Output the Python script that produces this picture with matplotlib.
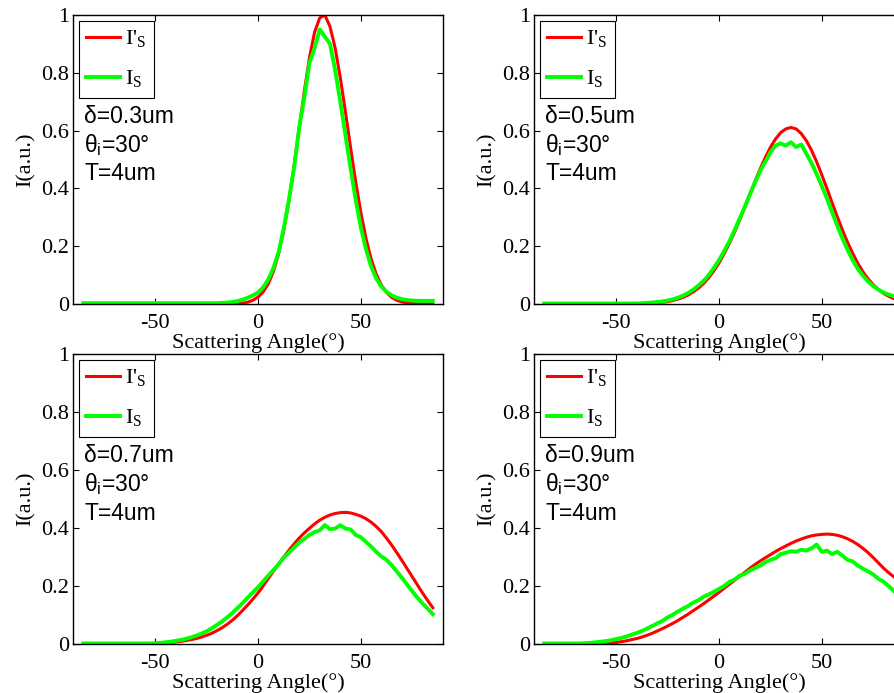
import numpy as np
import matplotlib
matplotlib.use('Agg')
import matplotlib.pyplot as plt

plt.rcParams['font.family'] = 'Liberation Serif'
plt.rcParams['mathtext.fontset'] = 'custom'
plt.rcParams['mathtext.rm'] = 'Liberation Serif'
plt.rcParams['mathtext.sf'] = 'Liberation Sans'
plt.rcParams['axes.unicode_minus'] = False

# scattering angle grid (deg), -85 .. 85 in 2.5 deg steps
angles = np.arange(-85, 85.1, 2.5)

deltas = ['0.3', '0.5', '0.7', '0.9']

# I'_S (model)
red_03 = [0.0, 0.0, 0.0, 0.0, 0.0, 0.0, 0.0, 0.0, 0.0, 0.0,
          0.0, 0.0, 0.0, 0.0, 0.0, 0.0, 0.0, 0.0, 0.0, 0.0,
          0.0, 0.0, 0.0, 0.0, 0.0, 0.0, 0.0, 0.0, 0.0, 0.0,
          0.001, 0.003, 0.0065, 0.013, 0.024,
          0.042, 0.070, 0.113, 0.174, 0.255, 0.357, 0.477, 0.607, 0.736, 0.852,
          0.941, 0.990, 1.0, 0.960, 0.886, 0.784, 0.666, 0.542, 0.423, 0.317,
          0.227, 0.156, 0.103, 0.065, 0.040, 0.023, 0.013, 0.007, 0.004, 0.002,
          0.001, 0.0, 0.0, 0.0]
red_05 = [0.0, 0.0, 0.0, 0.0, 0.0, 0.0, 0.0, 0.0, 0.0, 0.0,
          0.0, 0.0, 0.0, 0.0, 0.0, 0.0, 0.0, 0.0,
          0.001, 0.0012, 0.002, 0.003, 0.004, 0.006, 0.008, 0.012, 0.017, 0.023,
          0.031, 0.042, 0.055, 0.071, 0.091, 0.115, 0.142,
          0.174, 0.209, 0.248, 0.290, 0.334, 0.380, 0.424, 0.467, 0.507, 0.542,
          0.571, 0.593, 0.606, 0.611, 0.606, 0.590, 0.565, 0.532, 0.492, 0.447,
          0.400, 0.351, 0.303, 0.257, 0.214, 0.176, 0.141, 0.112, 0.087, 0.067,
          0.050, 0.037, 0.027, 0.019]
red_07 = [0.0, 0.0, 0.0, 0.0, 0.0, 0.0, 0.0, 0.0, 0.0, 0.0,
          0.0, 0.0, 0.0, 0.0,
          0.001, 0.002, 0.003, 0.005, 0.007, 0.009, 0.012, 0.015, 0.019, 0.024,
          0.030, 0.037, 0.046, 0.056, 0.068, 0.082, 0.098, 0.116, 0.135, 0.155, 0.176,
          0.200, 0.226, 0.251, 0.276, 0.300, 0.323, 0.345, 0.365, 0.383, 0.399,
          0.414, 0.427, 0.437, 0.445, 0.450, 0.453, 0.454, 0.452, 0.447, 0.441,
          0.432, 0.420, 0.405, 0.387, 0.365, 0.341, 0.315, 0.288, 0.260, 0.232,
          0.204, 0.176, 0.150, 0.125]
red_09 = [0.0, 0.0, 0.0, 0.0, 0.0, 0.0, 0.0, 0.0, 0.0, 0.0,
          0.001, 0.002, 0.003, 0.004, 0.006, 0.008, 0.011, 0.015, 0.019, 0.024,
          0.030, 0.037, 0.045, 0.053, 0.062, 0.071, 0.081, 0.092, 0.103, 0.115,
          0.127, 0.139, 0.152, 0.165, 0.178,
          0.192, 0.206, 0.219, 0.233, 0.247, 0.261, 0.274, 0.286, 0.297, 0.308,
          0.319, 0.329, 0.338, 0.347, 0.355, 0.362, 0.368, 0.373, 0.376, 0.378,
          0.379, 0.378, 0.375, 0.370, 0.363, 0.354, 0.343, 0.330, 0.315, 0.298,
          0.280, 0.262, 0.246, 0.232]

# I_S (simulated)
green_03 = [0.003, 0.003, 0.003, 0.003, 0.003, 0.003, 0.003, 0.003, 0.003, 0.003,
            0.003, 0.003, 0.003, 0.003, 0.003, 0.003, 0.003, 0.003, 0.003, 0.003,
            0.003, 0.003, 0.003, 0.003, 0.003, 0.003, 0.003,
            0.004, 0.005, 0.007, 0.010, 0.015, 0.022, 0.030, 0.040,
            0.058, 0.085, 0.125, 0.180, 0.262, 0.360, 0.470, 0.610, 0.715, 0.835,
            0.885, 0.950, 0.925, 0.900, 0.810, 0.700, 0.585, 0.470, 0.360, 0.265,
            0.190, 0.130, 0.088, 0.060, 0.042, 0.030, 0.022, 0.017, 0.014, 0.012,
            0.011, 0.011, 0.011, 0.011]
green_05 = [0.002, 0.002, 0.002, 0.002, 0.002, 0.002, 0.002, 0.002, 0.002, 0.002,
            0.002, 0.002, 0.002, 0.002, 0.002, 0.002, 0.002, 0.002, 0.002,
            0.003, 0.004, 0.005, 0.007, 0.009, 0.012, 0.016, 0.022, 0.029, 0.038,
            0.050, 0.064, 0.080, 0.100, 0.125, 0.152,
            0.183, 0.216, 0.255, 0.295, 0.336, 0.378, 0.420, 0.460, 0.492, 0.525,
            0.548, 0.556, 0.548, 0.560, 0.543, 0.552, 0.520, 0.488, 0.450, 0.408,
            0.365, 0.318, 0.272, 0.228, 0.188, 0.152, 0.122, 0.098, 0.078, 0.062,
            0.050, 0.040, 0.033, 0.027]
green_07 = [0.002, 0.002, 0.002, 0.002, 0.002, 0.002, 0.002, 0.002, 0.002, 0.002,
            0.002, 0.002, 0.002, 0.002,
            0.003, 0.004, 0.006, 0.008, 0.011, 0.014, 0.018, 0.023, 0.029, 0.036,
            0.044, 0.054, 0.066, 0.078, 0.092, 0.107, 0.124, 0.141, 0.160, 0.178, 0.196,
            0.216, 0.236, 0.255, 0.275, 0.298, 0.315, 0.332, 0.350, 0.362, 0.376,
            0.386, 0.392, 0.410, 0.396, 0.398, 0.410, 0.398, 0.395, 0.376, 0.368,
            0.352, 0.336, 0.318, 0.302, 0.290, 0.272, 0.250, 0.228, 0.205, 0.182,
            0.160, 0.140, 0.122, 0.103]
green_09 = [0.002, 0.002, 0.002, 0.002, 0.002, 0.002, 0.002, 0.002,
            0.003, 0.004, 0.006, 0.008, 0.010, 0.013, 0.017, 0.021, 0.026, 0.032,
            0.038, 0.045, 0.053, 0.062, 0.071, 0.080, 0.092, 0.101, 0.112, 0.122,
            0.131, 0.143, 0.151, 0.163, 0.171, 0.180, 0.190,
            0.200, 0.214, 0.222, 0.235, 0.242, 0.253, 0.262, 0.270, 0.282, 0.290,
            0.296, 0.310, 0.315, 0.320, 0.318, 0.325, 0.322, 0.330, 0.343, 0.318,
            0.322, 0.310, 0.318, 0.305, 0.290, 0.285, 0.270, 0.260, 0.250, 0.240,
            0.225, 0.215, 0.200, 0.183]

reds = [red_03, red_05, red_07, red_09]
greens = [green_03, green_05, green_07, green_09]

fig = plt.figure(figsize=(8.94, 6.93), dpi=100)
boxes = [[0.0817, 0.5613, 0.4139, 0.417],
         [0.5973, 0.5613, 0.4139, 0.417],
         [0.0817, 0.0707, 0.4139, 0.4185],
         [0.5973, 0.0707, 0.4139, 0.4185]]

for box, d, r, g in zip(boxes, deltas, reds, greens):
    ax = fig.add_axes(box)
    ax.plot(angles, r, color=(1, 0, 0), lw=2.2, label="I'$_\\mathrm{S}$")
    ax.plot(angles, g, color=(0, 1, 0), lw=2.8, label="I$_\\mathrm{S}$")
    ax.set_xlim(-90, 90)
    ax.set_ylim(0, 1)
    ax.set_xticks([-50, 0, 50])
    ax.set_yticks([0, 0.2, 0.4, 0.6, 0.8, 1])
    ax.set_yticklabels(['0', '0.2', '0.4', '0.6', '0.8', '1'])
    ax.tick_params(direction='in', top=True, right=True, length=4, width=0.8,
                   labelsize=16, pad=3)
    ax.tick_params(axis='x', pad=7)
    for s in ax.spines.values():
        s.set_linewidth(1.0)
    ax.set_xlabel('Scattering Angle(°)', fontsize=16, labelpad=0)
    ax.set_ylabel('I(a.u.)', fontsize=16, labelpad=4)
    leg = ax.legend(loc='upper left', fontsize=16, handlelength=1.5,
                    handletextpad=0.25, labelspacing=0.85, borderpad=0.35,
                    borderaxespad=0.25, fancybox=False, framealpha=1)
    leg.get_frame().set_edgecolor('black')
    leg.get_frame().set_linewidth(0.8)
    ax.text(0.03, 0.65, 'δ=' + d + 'um', transform=ax.transAxes,
            family='Liberation Sans', fontsize=16.5, va='center')
    ax.text(0.03, 0.55, 'θ$_\\mathsf{i}$=30°', transform=ax.transAxes,
            family='Liberation Sans', fontsize=16.5, va='center')
    ax.text(0.03, 0.45, 'T=4um', transform=ax.transAxes,
            family='Liberation Sans', fontsize=16.5, va='center')

plt.savefig('out.png', dpi=100)
plt.close()
